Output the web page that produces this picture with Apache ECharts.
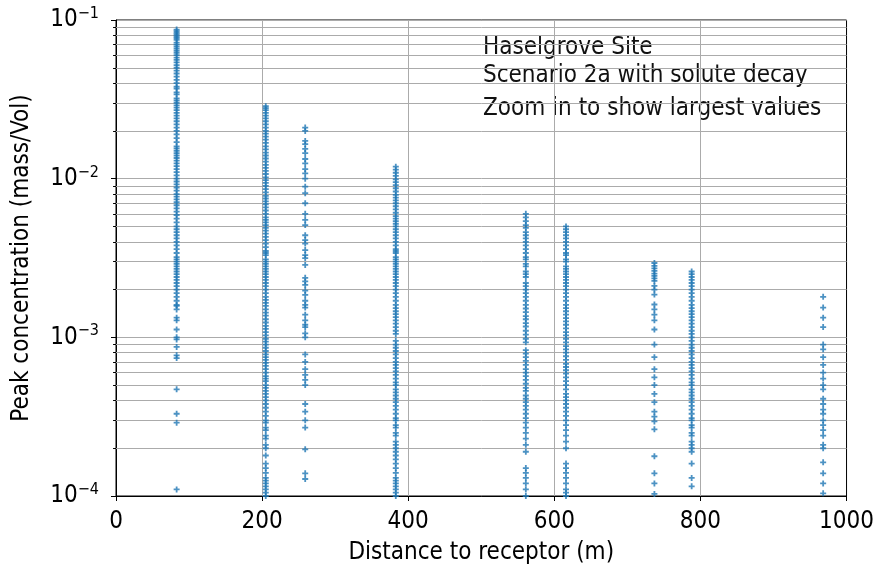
<!DOCTYPE html>
<html>
<head>
<meta charset="utf-8">
<script src="https://cdn.jsdelivr.net/npm/echarts@6/dist/echarts.min.js"></script>
<style>
  html, body { margin: 0; padding: 0; background: #fff; }
  #chart { width: 877px; height: 570px; }
</style>
</head>
<body>
<div id="chart"></div>
<script>
// Receptor distances (m), one column of peak concentrations per distance
const distances = [83, 205, 259, 383, 561, 616, 737, 788, 968];

const peaks83 = [0.087,0.085,0.083,0.081,0.079,0.077,0.075,0.072,0.07,0.068,0.066,0.064,0.062,0.06,0.058,0.056,0.054,0.052,0.05,0.048,0.046,0.044,0.042,0.04,0.038,0.037,0.035,0.034,0.032,0.031,0.03,0.029,0.028,0.027,0.026,0.025,0.024,0.023,0.022,0.021,0.02,0.019,0.018,0.017,0.016,0.0155,0.015,0.0145,0.014,0.0135,0.013,0.0125,0.012,0.0115,0.011,0.0105,0.01,0.0096,0.0092,0.0088,0.0084,0.008,0.0077,0.0074,0.0071,0.0068,0.0065,0.0062,0.0059,0.0056,0.0053,0.005,0.0048,0.0046,0.0044,0.0042,0.004,0.0038,0.0036,0.0034,0.0032,0.0031,0.003,0.0029,0.0028,0.0027,0.0026,0.0025,0.0024,0.0023,0.0022,0.0021,0.002,0.0019,0.0018,0.0017,0.0016,0.00158,0.0015,0.00133,0.00128,0.00112,0.001,0.00097,0.00087,0.00077,0.00074,0.00047,0.00033,0.00029,0.00011];

const peaks205 = [0.0286,0.0278,0.027,0.026,0.025,0.024,0.023,0.022,0.021,0.02,0.0192,0.0184,0.0176,0.0168,0.016,0.0153,0.0146,0.014,0.0134,0.0128,0.0122,0.0117,0.0112,0.0107,0.0102,0.0098,0.0094,0.009,0.0086,0.0082,0.0078,0.0075,0.0072,0.0069,0.0066,0.0063,0.006,0.0057,0.0055,0.0053,0.0051,0.0049,0.0047,0.0045,0.0043,0.0041,0.0039,0.0037,0.0035,0.0034,0.0033,0.0031,0.003,0.0029,0.0028,0.0027,0.0026,0.0025,0.0024,0.0023,0.0022,0.0021,0.002,0.0019,0.0018,0.00172,0.00165,0.00158,0.0015,0.00143,0.00137,0.0013,0.00124,0.00118,0.00113,0.00108,0.00103,0.00098,0.00094,0.0009,0.00086,0.00082,0.00078,0.00075,0.00072,0.00069,0.00066,0.00063,0.0006,0.00057,0.00055,0.00053,0.0005,0.00048,0.00046,0.00044,0.00042,0.0004,0.00038,0.00036,0.00034,0.00032,0.0003,0.00029,0.00027,0.00026,0.00024,0.00023,0.00021,0.0002,0.00018,0.00016,0.00015,0.00014,0.00013,0.000125,0.00012,0.000115,0.00011,0.000105,0.0001];

const peaks259 = [0.021,0.02,0.0173,0.0165,0.0154,0.0145,0.0133,0.0125,0.0115,0.0108,0.01,0.0089,0.0081,0.007,0.006,0.0055,0.0051,0.0044,0.0041,0.0039,0.00355,0.0033,0.00316,0.00286,0.00237,0.00225,0.00214,0.00197,0.00185,0.0017,0.0016,0.00154,0.00139,0.00128,0.0012,0.00116,0.00106,0.001,0.00078,0.0007,0.00063,0.00058,0.00054,0.0005,0.00038,0.00034,0.0003,0.00027,0.000197,0.000139,0.000128];

const peaks383 = [0.0119,0.0114,0.0109,0.0104,0.0099,0.0095,0.0091,0.0087,0.0083,0.0079,0.0076,0.0073,0.007,0.0067,0.0064,0.0061,0.0058,0.0056,0.0054,0.0052,0.005,0.0048,0.0046,0.0044,0.0042,0.004,0.0038,0.0036,0.0035,0.0034,0.0032,0.0031,0.003,0.0029,0.0028,0.0027,0.0026,0.0025,0.0024,0.0023,0.0022,0.0021,0.002,0.0019,0.0018,0.0017,0.0016,0.00153,0.00146,0.0014,0.00134,0.00128,0.00122,0.00116,0.0011,0.00105,0.00095,0.0009,0.00086,0.00082,0.00078,0.00074,0.0007,0.00067,0.00064,0.00061,0.00058,0.00055,0.00052,0.0005,0.00047,0.00045,0.00043,0.00041,0.00039,0.00037,0.00035,0.00033,0.00031,0.0003,0.00028,0.00027,0.00025,0.00024,0.00022,0.00021,0.0002,0.00019,0.00018,0.00017,0.00016,0.00015,0.00014,0.00013,0.000125,0.00012,0.000115,0.00011,0.000105,0.0001];

const peaks561 = [0.006,0.0057,0.0054,0.0051,0.0049,0.0046,0.0044,0.0042,0.004,0.0038,0.0036,0.0034,0.0032,0.0031,0.0029,0.0028,0.0026,0.0025,0.0024,0.0022,0.0021,0.002,0.0019,0.0018,0.0017,0.0016,0.00152,0.00144,0.00136,0.0013,0.00123,0.00117,0.0011,0.00104,0.00098,0.00093,0.00083,0.00079,0.00075,0.00071,0.00067,0.00063,0.0006,0.00057,0.00054,0.00051,0.00048,0.00046,0.00043,0.00041,0.00039,0.00037,0.00035,0.00033,0.00031,0.00029,0.00027,0.00025,0.00023,0.00021,0.00019,0.00015,0.00014,0.00013,0.00012,0.00011,0.0001];

const peaks616 = [0.005,0.0048,0.0046,0.0044,0.0042,0.004,0.0038,0.0036,0.0034,0.0033,0.0031,0.003,0.0028,0.0027,0.0026,0.0025,0.0024,0.0023,0.0022,0.0021,0.002,0.0019,0.0018,0.0017,0.0016,0.00153,0.00146,0.00139,0.00132,0.00126,0.0012,0.00114,0.00108,0.00103,0.00098,0.00093,0.00088,0.00084,0.0008,0.00076,0.00072,0.00068,0.00065,0.00062,0.00059,0.00056,0.00053,0.0005,0.00047,0.00044,0.00042,0.0004,0.00038,0.00036,0.00034,0.00032,0.0003,0.00028,0.00026,0.00024,0.00022,0.0002,0.00016,0.00015,0.00014,0.00013,0.00012,0.00011,0.000105,0.0001];

const peaks737 = [0.00294,0.00282,0.00272,0.00262,0.00252,0.00244,0.00235,0.00227,0.00211,0.002,0.00186,0.00161,0.0015,0.00139,0.00128,0.00112,0.0009,0.00075,0.00063,0.00056,0.0005,0.00044,0.00039,0.00034,0.000316,0.000295,0.000263,0.000178,0.000139,0.00012,0.000103];

const peaks788 = [0.0026,0.0025,0.0024,0.0023,0.0022,0.0021,0.002,0.0019,0.0018,0.0017,0.0016,0.00153,0.00146,0.0014,0.00134,0.00128,0.00122,0.00116,0.0011,0.00105,0.001,0.00095,0.0009,0.00086,0.00082,0.00078,0.00074,0.0007,0.00067,0.00064,0.00061,0.00058,0.00055,0.00052,0.0005,0.00047,0.00045,0.00043,0.00041,0.00039,0.00037,0.00035,0.00033,0.00031,0.0003,0.00028,0.00027,0.00025,0.00024,0.00022,0.00021,0.0002,0.00019,0.00016,0.00013,0.000115];

const peaks968 = [0.0018,0.00154,0.00133,0.00116,0.0009,0.00084,0.00075,0.00067,0.0006,0.00055,0.0005,0.00047,0.00041,0.00038,0.00035,0.00033,0.0003,0.00028,0.00026,0.00024,0.00021,0.0002,0.000163,0.000139,0.00012,0.000104];

const peakColumns = [peaks83, peaks205, peaks259, peaks383, peaks561, peaks616, peaks737, peaks788, peaks968];

// Axis ranges and ticks
const xTicks = [0, 200, 400, 600, 800, 1000];
const yDecades = [1e-4, 1e-3, 1e-2, 1e-1];
const minorMultipliers = [2, 3, 4, 5, 6, 7, 8, 9];

// Annotation lines
const noteLines = ['Haselgrove Site', 'Scenario 2a with solute decay', 'Zoom in to show largest values'];

const points = [];
distances.forEach((d, i) => {
  peakColumns[i].forEach(v => points.push([d, v]));
});

// Minor grid values 2..9 within each decade
const minorValues = [];
for (let k = 0; k < yDecades.length - 1; k++) {
  minorMultipliers.forEach(m => minorValues.push(+(m * yDecades[k]).toPrecision(3)));
}

const xMin = xTicks[0], xMax = xTicks[xTicks.length - 1];
const axisFont = "'DejaVu Sans Condensed', 'DejaVu Sans', sans-serif";
const gridGray = '#ababab';
const plusPath = 'path://M3.5,0H6.5V3.5H10V6.5H6.5V10H3.5V6.5H0V3.5H3.5Z';

const chart = echarts.init(document.getElementById('chart'), null, { renderer: 'canvas' });

chart.setOption({
  animation: false,
  backgroundColor: '#fff',
  grid: {
    left: 116, right: 28, top: 20, bottom: 71,
    show: true, borderColor: '#000', borderWidth: 1, backgroundColor: 'transparent'
  },
  xAxis: {
    type: 'value',
    min: xMin, max: xMax, interval: 200,
    name: 'Distance to receptor (m)',
    nameLocation: 'middle', nameGap: 45,
    nameTextStyle: { fontFamily: axisFont, fontSize: 24, color: '#000' },
    axisLine: { lineStyle: { color: '#000', width: 1 } },
    axisTick: { show: true, length: 5, lineStyle: { color: '#000' } },
    axisLabel: { fontFamily: axisFont, fontSize: 24, color: '#000', margin: 14, formatter: v => String(v) },
    splitLine: { show: true, showMinLine: false, showMaxLine: false, lineStyle: { color: gridGray, width: 1 } }
  },
  yAxis: {
    type: 'log', logBase: 10,
    min: yDecades[0], max: yDecades[yDecades.length - 1], interval: 1,
    name: 'Peak concentration (mass/Vol)',
    nameLocation: 'middle', nameGap: 82, nameRotate: 90,
    nameTextStyle: { fontFamily: axisFont, fontSize: 24, color: '#000' },
    axisLine: { show: true, lineStyle: { color: '#000', width: 1 } },
    axisTick: { show: true, length: 5, lineStyle: { color: '#000' } },
    axisLabel: {
      margin: 17,
      formatter: v => '{b|10}{e|' + Math.round(Math.log10(v)).toString().replace('-', '\u2212') + '}',
      rich: {
        b: { fontFamily: axisFont, fontSize: 24, color: '#000' },
        e: { fontFamily: axisFont, fontSize: 16, color: '#000', verticalAlign: 'top', padding: [0, 0, 12, 0] }
      }
    },
    splitLine: { show: true, showMinLine: false, showMaxLine: false, lineStyle: { color: gridGray, width: 1 } }
  },
  graphic: noteLines.map((t, i) => ({
    type: 'text',
    left: 483,
    top: [36, 64, 97][i],
    style: { text: t, fontFamily: axisFont, fontSize: 24, fill: '#111' }
  })),
  series: [
    {
      // minor horizontal grid lines at 2..9 of each decade
      type: 'lines',
      coordinateSystem: 'cartesian2d',
      z: 1,
      silent: true,
      lineStyle: { color: gridGray, width: 1, opacity: 1 },
      data: minorValues.map(v => ({ coords: [[xMin, v], [xMax, v]] }))
    },
    {
      // minor ticks on the left spine, pointing outward
      type: 'lines',
      coordinateSystem: 'cartesian2d',
      z: 3,
      silent: true,
      clip: false,
      lineStyle: { color: '#000', width: 1, opacity: 1 },
      data: minorValues.map(v => ({ coords: [[xMin - 4, v], [xMin, v]] }))
    },
    {
      type: 'scatter',
      z: 2,
      symbol: plusPath,
      symbolSize: 6,
      itemStyle: { color: '#1f77b4' },
      data: points
    }
  ]
});
</script>
</body>
</html>
